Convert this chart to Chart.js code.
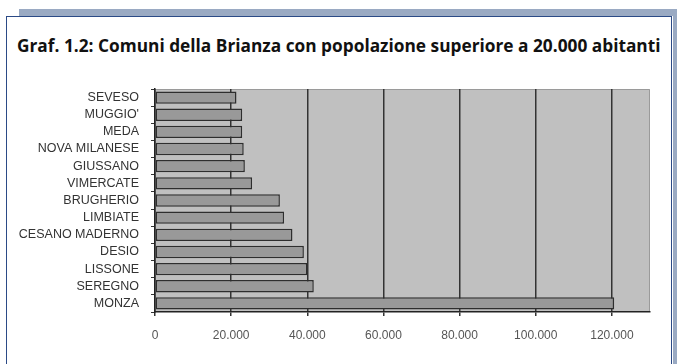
<!DOCTYPE html>
<html>
<head>
<meta charset="utf-8">
<script src="https://cdn.jsdelivr.net/npm/chart.js@4.4.1/dist/chart.umd.min.js"></script>
<style>
    body { margin: 0; background: #fff; }
    #page { position: relative; width: 677px; height: 364px; overflow: hidden; }
    #band { position: absolute; left: 19px; top: 9px; width: 658px; height: 7px; background: #9aaac3; }
    #side { position: absolute; left: 673px; top: 9px; width: 4px; height: 355px; background: #9aaac3; }
    #box {
        position: absolute; left: 6px; top: 16px; width: 664px; height: 360px;
        background: #fff; border: 1px solid #2b4a86; border-bottom: none;
    }
    #title {
        position: absolute; left: 17px; top: 36px; white-space: nowrap;
        font-family: "Open Sans", sans-serif; font-weight: bold; font-size: 17.3px;
        color: #111; line-height: 20px;
    }
    #chart { position: absolute; left: 0; top: 0; }
</style>
</head>
<body>
<div id="page">
    <div id="band"></div>
    <div id="side"></div>
    <div id="box"></div>
    <div id="title">Graf. 1.2: Comuni della Brianza con popolazione superiore a 20.000 abitanti</div>
    <canvas id="chart" width="677" height="364"></canvas>
</div>
<script>
const comuni = ['SEVESO', "MUGGIO'", 'MEDA', 'NOVA MILANESE', 'GIUSSANO', 'VIMERCATE', 'BRUGHERIO',
    'LIMBIATE', 'CESANO MADERNO', 'DESIO', 'LISSONE', 'SEREGNO', 'MONZA'];
const abitanti = [21400, 22900, 22900, 23300, 23600, 25500, 32800, 33900, 36100, 39100, 40000, 41700, 120600];
const xTickValues = [0, 20000, 40000, 60000, 80000, 100000, 120000];

function formatIt(v) {
    return v.toString().replace(/\B(?=(\d{3})+(?!\d))/g, '.');
}

const plotBackground = {
    id: 'plotBackground',
    beforeDraw(chart) {
        const { ctx, chartArea: a } = chart;
        ctx.save();
        ctx.fillStyle = '#c0c0c0';
        ctx.fillRect(a.left, a.top, a.right - a.left, a.bottom - a.top);
        ctx.strokeStyle = '#9a9a9a';
        ctx.lineWidth = 1;
        ctx.beginPath();
        ctx.moveTo(a.left, a.top + 0.5);
        ctx.lineTo(a.right - 0.5, a.top + 0.5);
        ctx.lineTo(a.right - 0.5, a.bottom);
        ctx.stroke();
        ctx.restore();
    }
};

new Chart(document.getElementById('chart').getContext('2d'), {
    type: 'bar',
    data: {
        labels: comuni,
        datasets: [{
            data: abitanti,
            backgroundColor: '#999999',
            borderColor: '#2e2e2e',
            borderWidth: 1.5,
            borderSkipped: false,
            barPercentage: 0.72,
            categoryPercentage: 1
        }]
    },
    options: {
        indexAxis: 'y',
        responsive: false,
        animation: false,
        layout: { padding: { left: 10, right: 27, top: 89, bottom: 12 } },
        plugins: { legend: { display: false }, tooltip: { enabled: false } },
        scales: {
            x: {
                min: 0,
                max: 130000,
                afterBuildTicks: scale => {
                    scale.ticks = xTickValues.map(v => ({ value: v }));
                },
                afterFit: scale => { scale.height = 40; },
                grid: { color: '#333', lineWidth: 1.5, tickLength: 4 },
                border: { color: '#222', width: 1.5 },
                ticks: {
                    color: '#555',
                    padding: 12,
                    maxRotation: 0,
                    font: { family: 'Liberation Sans, Arial, sans-serif', size: 12 },
                    callback: v => formatIt(v)
                }
            },
            y: {
                afterFit: scale => { scale.width = 145; },
                grid: { drawOnChartArea: false, color: '#333', tickLength: 4, offset: true },
                border: { color: '#222', width: 1.5 },
                ticks: {
                    autoSkip: false,
                    color: '#333',
                    padding: 12,
                    font: { family: 'Liberation Sans, Arial, sans-serif', size: 12.5 }
                }
            }
        }
    },
    plugins: [plotBackground]
});
</script>
</body>
</html>
